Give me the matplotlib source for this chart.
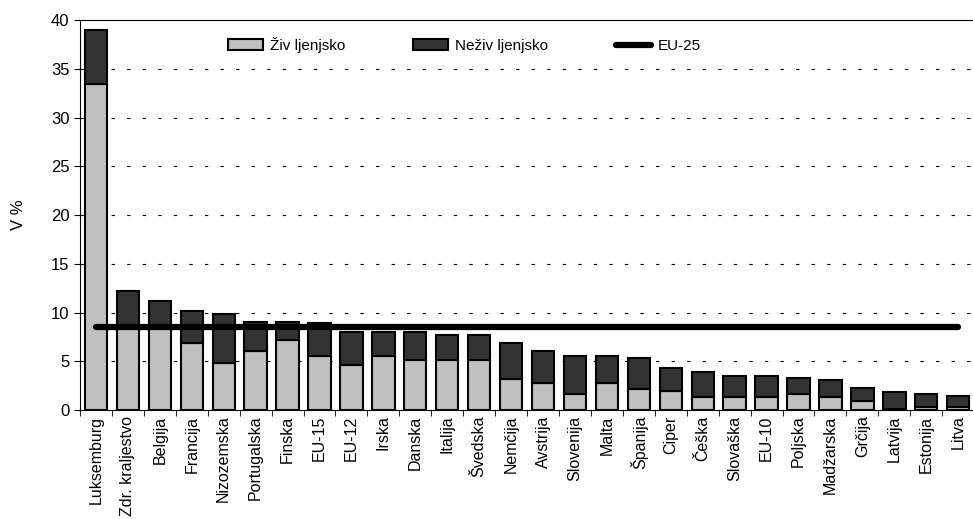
import numpy as np
import matplotlib.pyplot as plt

plt.rcParams['font.family'] = ['Liberation Sans', 'DejaVu Sans']

drzave = ['Luksemburg', 'Zdr. kraljestvo', 'Belgija', 'Francija', 'Nizozemska',
          'Portugalska', 'Finska', 'EU-15', 'EU-12', 'Irska', 'Danska', 'Italija',
          'Švedska', 'Nemčija', 'Avstrija', 'Slovenija', 'Malta', 'Španija',
          'Ciper', 'Češka', 'Slovaška', 'EU-10', 'Poljska', 'Madžarska',
          'Grčija', 'Latvija', 'Estonija', 'Litva']

# skupaj in zivljenjsko (v %)
skupaj = [39.0, 12.2, 11.2, 10.2, 9.85, 9.0, 9.0, 8.9, 8.0, 8.0, 8.0, 7.7,
          7.7, 6.9, 6.1, 5.5, 5.5, 5.3, 4.3, 3.85, 3.45, 3.45, 3.25, 3.05,
          2.25, 1.8, 1.6, 1.4]
zivljenjsko = [33.4, 8.5, 8.5, 6.9, 4.85, 6.05, 7.15, 5.5, 4.65, 5.5, 5.1, 5.1,
               5.1, 3.2, 2.8, 1.6, 2.8, 2.2, 1.95, 1.35, 1.35, 1.35, 1.6, 1.35,
               0.95, 0.15, 0.35, 0.35]
eu25 = 8.5

zivljenjsko = np.array(zivljenjsko)
nezivljenjsko = np.array(skupaj) - zivljenjsko
x = np.arange(len(drzave))

fig = plt.figure(figsize=(9.73, 5.19), dpi=100)
ax = fig.add_axes([0.0822, 0.21, 0.919, 0.7514])

for y in range(5, 40, 5):
    ax.axhline(y, color='black', lw=0.8, ls=(0, (3, 11)), zorder=0)

b1 = ax.bar(x, zivljenjsko, width=0.7, color='#c0c0c0', edgecolor='black',
            lw=1.5, label='Živ ljenjsko', zorder=2)
b2 = ax.bar(x, nezivljenjsko, bottom=zivljenjsko, width=0.7, color='#333333',
            edgecolor='black', lw=1.5, label='Neživ ljenjsko', zorder=2)
l1, = ax.plot([x[0], x[-1]], [eu25, eu25], color='black', lw=4.5,
              solid_capstyle='round', label='EU-25', zorder=3)

ax.set_xlim(-0.5, len(drzave) - 0.5)
ax.set_ylim(0, 40)
ax.set_yticks(range(0, 45, 5))
ax.tick_params(axis='y', labelsize=12, direction='out', length=4)
ax.set_xticks(x)
ax.set_xticklabels(drzave, rotation=90, fontsize=11.5)
ax.tick_params(axis='x', which='major', length=0, pad=4)
ax.set_xticks(np.arange(-0.5, len(drzave), 1), minor=True)
ax.tick_params(axis='x', which='minor', length=4, direction='out')
ax.set_ylabel('V %', fontsize=12, labelpad=18)
ax.spines['right'].set_visible(False)

fig.legend(handles=[b1, b2, l1], loc='upper left',
           bbox_to_anchor=(214 / 973, 0.955), ncol=3, frameon=False,
           fontsize=11, columnspacing=4.45, handlelength=2.3,
           handletextpad=0.45)

fig.savefig('out.png', dpi=100)
